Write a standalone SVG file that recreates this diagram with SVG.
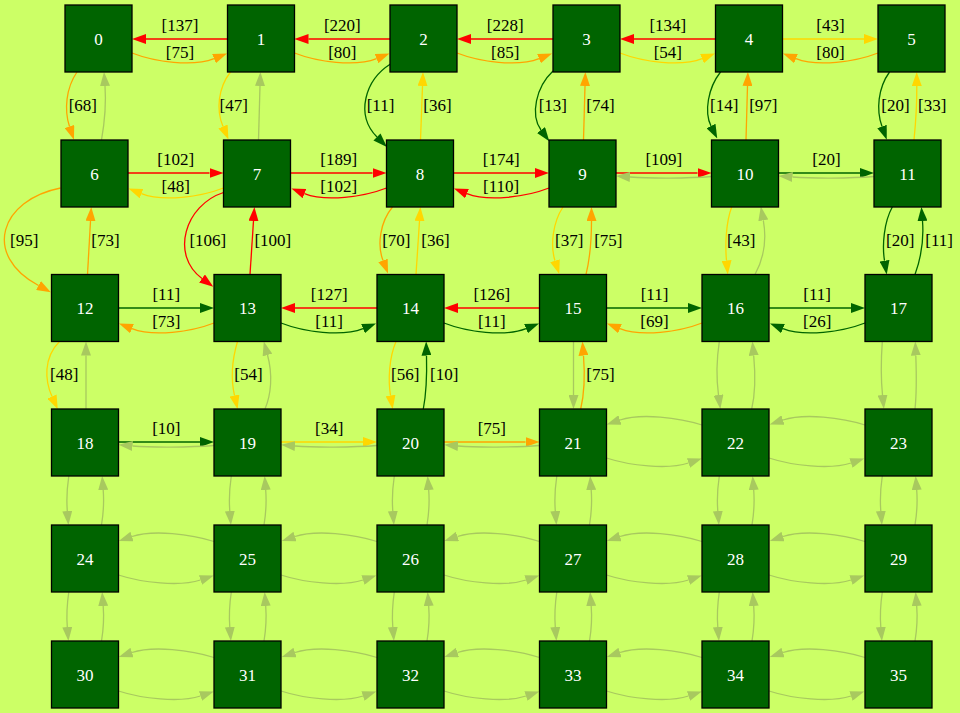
<svg xmlns="http://www.w3.org/2000/svg" width="960" height="713" viewBox="0 0 960 713">
<defs>
<style>
.e{fill:none;stroke-width:1.3}
.r{stroke:#ff0000;marker-end:url(#aR)}
.o{stroke:#ffa500;marker-end:url(#aO)}
.y{stroke:#ffd700;marker-end:url(#aY)}
.g{stroke:#006400;marker-end:url(#aG)}
.f{stroke:#a8c95f;marker-end:url(#aF)}
.n rect{fill:#006400;stroke:#000;stroke-width:1.3}
.n text{fill:#fff;font-family:"Liberation Serif","DejaVu Serif",serif;font-size:17px;text-anchor:middle}
.l{fill:#000;font-family:"Liberation Serif","DejaVu Serif",serif;font-size:17px;text-anchor:middle}
</style>
<marker id="aR" viewBox="0 0 14 10" refX="0" refY="5" markerWidth="14" markerHeight="10" markerUnits="userSpaceOnUse" orient="auto"><path d="M0,0 L14,5 L0,10 z" fill="#ff0000"/></marker>
<marker id="aO" viewBox="0 0 14 10" refX="0" refY="5" markerWidth="14" markerHeight="10" markerUnits="userSpaceOnUse" orient="auto"><path d="M0,0 L14,5 L0,10 z" fill="#ffa500"/></marker>
<marker id="aY" viewBox="0 0 14 10" refX="0" refY="5" markerWidth="14" markerHeight="10" markerUnits="userSpaceOnUse" orient="auto"><path d="M0,0 L14,5 L0,10 z" fill="#ffd700"/></marker>
<marker id="aG" viewBox="0 0 14 10" refX="0" refY="5" markerWidth="14" markerHeight="10" markerUnits="userSpaceOnUse" orient="auto"><path d="M0,0 L14,5 L0,10 z" fill="#006400"/></marker>
<marker id="aF" viewBox="0 0 14 10" refX="0" refY="5" markerWidth="14" markerHeight="10" markerUnits="userSpaceOnUse" orient="auto"><path d="M0,0 L14,5 L0,10 z" fill="#a8c95f"/></marker>
</defs>
<rect x="0" y="0" width="960" height="713" fill="#ccff66"/>
<g id="edges">
<path class="e r" d="M227.5,39 H146"/>
<path class="e o" d="M132,53 C155,62 193,67 214,58.6"/>
<path class="e r" d="M390,39 H308.5"/>
<path class="e o" d="M294.5,53 C317.5,62 355.5,67 376.5,58.6"/>
<path class="e r" d="M553,39 H471"/>
<path class="e o" d="M457,53 C480,62 518,67 539,58.6"/>
<path class="e r" d="M715.5,39 H634"/>
<path class="e y" d="M620,53 C643,62 681,67 702,58.6"/>
<path class="e y" d="M782.5,39 H864"/>
<path class="e o" d="M878,53 C855,62 817,67 796,58.6"/>

<path class="e o" d="M77,72 C66,88 64,110 69.5,126.5"/>
<path class="e f" d="M101.5,140 C105,120 106,100 105,86"/>
<path class="e y" d="M230.5,72 C218,88 216,110 223,126.5"/>
<path class="e f" d="M258.5,140 L260,86"/>
<path class="e g" d="M390.5,64 C365,80 355,115 377,137"/>
<path class="e y" d="M420.5,140 L422.5,86"/>
<path class="e g" d="M553,71 C536,87 530,115 541,130"/>
<path class="e o" d="M583.5,140 L585,86"/>
<path class="e g" d="M720.5,72 C708,88 704,112 711,126"/>
<path class="e o" d="M746,140 L747.5,86"/>
<path class="e g" d="M889.5,72 C878,88 876,110 882,126.5"/>
<path class="e y" d="M914,140 Q917,110 916.8,86"/>

<path class="e r" d="M128,173 H209.5"/>
<path class="e y" d="M223.5,188 C200.5,197 162.5,202 141.5,193.6"/>
<path class="e r" d="M290.5,173 H372.5"/>
<path class="e r" d="M386.5,188 C363.5,197 325.5,202 304.5,193.6"/>
<path class="e r" d="M453.5,173 H535"/>
<path class="e r" d="M549,188 C526,197 488,202 467,193.6"/>
<path class="e r" d="M616,173 H697.5"/>
<path class="e f" d="M711.5,176.5 C688,178.5 650,178.5 630,177"/>
<path class="e g" d="M778.5,173 H860"/>
<path class="e f" d="M874,176.5 C850,178.5 812,178.5 792.5,177"/>

<path class="e o" d="M60.5,188 C0,200 -18,255 38.5,285.5"/>
<path class="e o" d="M87.5,274.5 L90.5,221"/>
<path class="e r" d="M223.5,192.5 C185,205 170,255 202,278.5"/>
<path class="e r" d="M250,274.5 L253.5,221"/>
<path class="e o" d="M392.5,207 C380,222 377,245 383,260.5"/>
<path class="e y" d="M416,274.5 L419.5,221"/>
<path class="e y" d="M563,207 C553,222 550,245 555,260.7"/>
<path class="e o" d="M586,274.5 C590,258 591.5,240 591.5,221"/>
<path class="e y" d="M731.7,207 C726,222 725,245 726.5,260.5"/>
<path class="e f" d="M755,274.5 C764,258 766.5,238 763.3,220.3"/>
<path class="e g" d="M892.3,207 C884,222 882,245 884.5,260.7"/>
<path class="e g" d="M915,274.5 C921,258 924,240 922.5,221"/>

<path class="e g" d="M118.5,308 H200"/>
<path class="e o" d="M214,323 C191,332 153,337 132,328.6"/>
<path class="e r" d="M377,308 H295"/>
<path class="e g" d="M281,323 C304,332 342,337 363,328.6"/>
<path class="e r" d="M539.5,308 H458"/>
<path class="e g" d="M444,323 C467,332 505,337 526,328.6"/>
<path class="e g" d="M606.5,308 H688"/>
<path class="e o" d="M702,323 C679,332 641,337 620,328.6"/>
<path class="e g" d="M769,308 H851"/>
<path class="e g" d="M865,323 C842,332 804,337 783,328.6"/>

<path class="e y" d="M59.5,341.5 C43,358 45,381 52,396.5"/>
<path class="e f" d="M86,409 L86,355.5"/>
<path class="e y" d="M237.5,341.5 C232,360 231,380 234.5,395.5"/>
<path class="e f" d="M265,409 C271,395 273,375 267.5,355"/>
<path class="e y" d="M396,341.5 C389,358 388,380 390.5,395.5"/>
<path class="e g" d="M423.3,409 C426,395 427,375 426.5,355.5"/>
<path class="e f" d="M573.5,341.5 L573.5,395"/>
<path class="e o" d="M580.7,409 C584,395 585,375 583.5,355.5"/>
<path class="e f" d="M719.3,341.5 C716.5,360 716.5,380 718.5,395"/>
<path class="e f" d="M751.7,409 C755,395 755.5,375 753.7,355.5"/>
<path class="e f" d="M882.3,341.5 C881,360 881,380 882.5,395"/>
<path class="e f" d="M915,409 C916.5,395 916.5,375 915.8,355.5"/>

<path class="e g" d="M118.5,442 H200"/>
<path class="e f" d="M214,445.5 C190,447.5 150,447.5 132.5,446"/>
<path class="e y" d="M281,442 H363"/>
<path class="e f" d="M377,445.5 C353,447.5 313,447.5 295,446"/>
<path class="e o" d="M444,442 H525.5"/>
<path class="e f" d="M539.5,445.5 C515.5,447.5 475.5,447.5 458,446"/>
<path class="e f" d="M702,425 C679,417.5 641,413 620,420"/>
<path class="e f" d="M606.5,458 C629.5,465.5 667.5,470 688.5,463"/>
<path class="e f" d="M865,425 C842,417.5 804,413 783,420"/>
<path class="e f" d="M769,458 C792,465.5 830,470 851,463"/>

<path class="e f" d="M68.8,476 Q66,495 67.3,511"/>
<path class="e f" d="M101.5,525 Q104.5,507 103.2,490"/>
<path class="e f" d="M231.3,476 Q228.5,495 229.8,511"/>
<path class="e f" d="M264,525 Q267,507 265.7,490"/>
<path class="e f" d="M394.3,476 Q391.5,495 392.8,511"/>
<path class="e f" d="M427,525 Q430,507 428.7,490"/>
<path class="e f" d="M556.8,476 Q554,495 555.3,511"/>
<path class="e f" d="M589.5,525 Q592.5,507 591.2,490"/>
<path class="e f" d="M719.3,476 Q716.5,495 717.8,511"/>
<path class="e f" d="M752,525 Q755,507 753.7,490"/>
<path class="e f" d="M882.3,476 Q879.5,495 880.8,511"/>
<path class="e f" d="M915,525 Q918,507 916.7,490"/>

<path class="e f" d="M214,541.5 C191,534 153,529.5 132,536.5"/>
<path class="e f" d="M377,541.5 C354,534 316,529.5 295,536.5"/>
<path class="e f" d="M539.5,541.5 C516.5,534 478.5,529.5 457.5,536.5"/>
<path class="e f" d="M702,541.5 C679,534 641,529.5 620,536.5"/>
<path class="e f" d="M865,541.5 C842,534 804,529.5 783,536.5"/>
<path class="e f" d="M118.5,575 C141.5,582.5 179.5,587 200.5,580"/>
<path class="e f" d="M281,575 C304,582.5 342,587 363,580"/>
<path class="e f" d="M444,575 C467,582.5 505,587 526,580"/>
<path class="e f" d="M606.5,575 C629.5,582.5 667.5,587 688.5,580"/>
<path class="e f" d="M769,575 C792,582.5 830,587 851,580"/>

<path class="e f" d="M68.8,592 Q66,611 67.3,627"/>
<path class="e f" d="M101.5,641 Q104.5,623 103.2,606"/>
<path class="e f" d="M231.3,592 Q228.5,611 229.8,627"/>
<path class="e f" d="M264,641 Q267,623 265.7,606"/>
<path class="e f" d="M394.3,592 Q391.5,611 392.8,627"/>
<path class="e f" d="M427,641 Q430,623 428.7,606"/>
<path class="e f" d="M556.8,592 Q554,611 555.3,627"/>
<path class="e f" d="M589.5,641 Q592.5,623 591.2,606"/>
<path class="e f" d="M719.3,592 Q716.5,611 717.8,627"/>
<path class="e f" d="M752,641 Q755,623 753.7,606"/>
<path class="e f" d="M882.3,592 Q879.5,611 880.8,627"/>
<path class="e f" d="M915,641 Q918,623 916.7,606"/>

<path class="e f" d="M214,657.5 C191,650 153,645.5 132,652.5"/>
<path class="e f" d="M377,657.5 C354,650 316,645.5 295,652.5"/>
<path class="e f" d="M539.5,657.5 C516.5,650 478.5,645.5 457.5,652.5"/>
<path class="e f" d="M702,657.5 C679,650 641,645.5 620,652.5"/>
<path class="e f" d="M865,657.5 C842,650 804,645.5 783,652.5"/>
<path class="e f" d="M118.5,691 C141.5,698.5 179.5,703 200.5,696"/>
<path class="e f" d="M281,691 C304,698.5 342,703 363,696"/>
<path class="e f" d="M444,691 C467,698.5 505,703 526,696"/>
<path class="e f" d="M606.5,691 C629.5,698.5 667.5,703 688.5,696"/>
<path class="e f" d="M769,691 C792,698.5 830,703 851,696"/>

<text class="l" x="180" y="31">[137]</text>
<text class="l" x="180" y="58">[75]</text>
<text class="l" x="342.3" y="31">[220]</text>
<text class="l" x="342.3" y="58">[80]</text>
<text class="l" x="505.2" y="31">[228]</text>
<text class="l" x="505.2" y="58">[85]</text>
<text class="l" x="667.8" y="31">[134]</text>
<text class="l" x="667.8" y="58">[54]</text>
<text class="l" x="830.5" y="31">[43]</text>
<text class="l" x="830.5" y="58">[80]</text>

<text class="l" x="82.8" y="111">[68]</text>
<text class="l" x="233.7" y="111">[47]</text>
<text class="l" x="380.5" y="111">[11]</text>
<text class="l" x="437.5" y="111">[36]</text>
<text class="l" x="552.8" y="111">[13]</text>
<text class="l" x="600.5" y="111">[74]</text>
<text class="l" x="724.2" y="111">[14]</text>
<text class="l" x="763.3" y="111">[97]</text>
<text class="l" x="895.5" y="111">[20]</text>
<text class="l" x="932.2" y="111">[33]</text>

<text class="l" x="175.7" y="164.5">[102]</text>
<text class="l" x="175.7" y="192">[48]</text>
<text class="l" x="338.7" y="164.5">[189]</text>
<text class="l" x="338.7" y="192">[102]</text>
<text class="l" x="501.2" y="164.5">[174]</text>
<text class="l" x="501.2" y="192">[110]</text>
<text class="l" x="663.8" y="164.5">[109]</text>
<text class="l" x="826.5" y="164.5">[20]</text>

<text class="l" x="24.2" y="246">[95]</text>
<text class="l" x="105.5" y="246">[73]</text>
<text class="l" x="207.8" y="246">[106]</text>
<text class="l" x="272.8" y="246">[100]</text>
<text class="l" x="396.3" y="246">[70]</text>
<text class="l" x="435.5" y="246">[36]</text>
<text class="l" x="569.2" y="246">[37]</text>
<text class="l" x="608.3" y="246">[75]</text>
<text class="l" x="741.2" y="246">[43]</text>
<text class="l" x="900.2" y="246">[20]</text>
<text class="l" x="939.2" y="246">[11]</text>

<text class="l" x="166.3" y="299.5">[11]</text>
<text class="l" x="166.3" y="327">[73]</text>
<text class="l" x="329.2" y="299.5">[127]</text>
<text class="l" x="329.2" y="327">[11]</text>
<text class="l" x="491.8" y="299.5">[126]</text>
<text class="l" x="491.8" y="327">[11]</text>
<text class="l" x="654.5" y="299.5">[11]</text>
<text class="l" x="654.5" y="327">[69]</text>
<text class="l" x="817.2" y="299.5">[11]</text>
<text class="l" x="817.2" y="327">[26]</text>

<text class="l" x="64.2" y="379.5">[48]</text>
<text class="l" x="248.5" y="379.5">[54]</text>
<text class="l" x="405.2" y="379.5">[56]</text>
<text class="l" x="444.2" y="379.5">[10]</text>
<text class="l" x="600.5" y="379.5">[75]</text>

<text class="l" x="166.3" y="433.5">[10]</text>
<text class="l" x="329.2" y="433.5">[34]</text>
<text class="l" x="491.8" y="433.5">[75]</text>
</g>
<g id="node0" class="n"><rect x="65" y="5" width="67" height="67"/><text x="98.5" y="44.5">0</text></g>
<g id="node1" class="n"><rect x="227.5" y="5" width="67" height="67"/><text x="261" y="44.5">1</text></g>
<g id="node2" class="n"><rect x="390" y="5" width="67" height="67"/><text x="423.5" y="44.5">2</text></g>
<g id="node3" class="n"><rect x="553" y="5" width="67" height="67"/><text x="586.5" y="44.5">3</text></g>
<g id="node4" class="n"><rect x="715.5" y="5" width="67" height="67"/><text x="749" y="44.5">4</text></g>
<g id="node5" class="n"><rect x="878" y="5" width="67" height="67"/><text x="911.5" y="44.5">5</text></g>
<g id="node6" class="n"><rect x="61" y="140" width="67" height="67"/><text x="94.5" y="179.5">6</text></g>
<g id="node7" class="n"><rect x="223.5" y="140" width="67" height="67"/><text x="257" y="179.5">7</text></g>
<g id="node8" class="n"><rect x="386.5" y="140" width="67" height="67"/><text x="420" y="179.5">8</text></g>
<g id="node9" class="n"><rect x="549" y="140" width="67" height="67"/><text x="582.5" y="179.5">9</text></g>
<g id="node10" class="n"><rect x="711.5" y="140" width="67" height="67"/><text x="745" y="179.5">10</text></g>
<g id="node11" class="n"><rect x="874" y="140" width="67" height="67"/><text x="907.5" y="179.5">11</text></g>
<g id="node12" class="n"><rect x="51.5" y="274.5" width="67" height="67"/><text x="85" y="314">12</text></g>
<g id="node13" class="n"><rect x="214" y="274.5" width="67" height="67"/><text x="247.5" y="314">13</text></g>
<g id="node14" class="n"><rect x="377" y="274.5" width="67" height="67"/><text x="410.5" y="314">14</text></g>
<g id="node15" class="n"><rect x="539.5" y="274.5" width="67" height="67"/><text x="573" y="314">15</text></g>
<g id="node16" class="n"><rect x="702" y="274.5" width="67" height="67"/><text x="735.5" y="314">16</text></g>
<g id="node17" class="n"><rect x="865" y="274.5" width="67" height="67"/><text x="898.5" y="314">17</text></g>
<g id="node18" class="n"><rect x="51.5" y="409" width="67" height="67"/><text x="85" y="448.5">18</text></g>
<g id="node19" class="n"><rect x="214" y="409" width="67" height="67"/><text x="247.5" y="448.5">19</text></g>
<g id="node20" class="n"><rect x="377" y="409" width="67" height="67"/><text x="410.5" y="448.5">20</text></g>
<g id="node21" class="n"><rect x="539.5" y="409" width="67" height="67"/><text x="573" y="448.5">21</text></g>
<g id="node22" class="n"><rect x="702" y="409" width="67" height="67"/><text x="735.5" y="448.5">22</text></g>
<g id="node23" class="n"><rect x="865" y="409" width="67" height="67"/><text x="898.5" y="448.5">23</text></g>
<g id="node24" class="n"><rect x="51.5" y="525" width="67" height="67"/><text x="85" y="564.5">24</text></g>
<g id="node25" class="n"><rect x="214" y="525" width="67" height="67"/><text x="247.5" y="564.5">25</text></g>
<g id="node26" class="n"><rect x="377" y="525" width="67" height="67"/><text x="410.5" y="564.5">26</text></g>
<g id="node27" class="n"><rect x="539.5" y="525" width="67" height="67"/><text x="573" y="564.5">27</text></g>
<g id="node28" class="n"><rect x="702" y="525" width="67" height="67"/><text x="735.5" y="564.5">28</text></g>
<g id="node29" class="n"><rect x="865" y="525" width="67" height="67"/><text x="898.5" y="564.5">29</text></g>
<g id="node30" class="n"><rect x="51.5" y="641" width="67" height="67"/><text x="85" y="680.5">30</text></g>
<g id="node31" class="n"><rect x="214" y="641" width="67" height="67"/><text x="247.5" y="680.5">31</text></g>
<g id="node32" class="n"><rect x="377" y="641" width="67" height="67"/><text x="410.5" y="680.5">32</text></g>
<g id="node33" class="n"><rect x="539.5" y="641" width="67" height="67"/><text x="573" y="680.5">33</text></g>
<g id="node34" class="n"><rect x="702" y="641" width="67" height="67"/><text x="735.5" y="680.5">34</text></g>
<g id="node35" class="n"><rect x="865" y="641" width="67" height="67"/><text x="898.5" y="680.5">35</text></g>
</svg>
